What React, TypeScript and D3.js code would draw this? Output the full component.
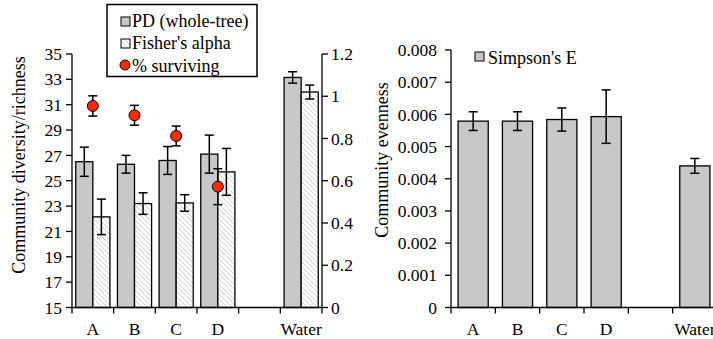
import React from "react";
import * as d3 from "d3";

// categories on the x axis (blank slot between D and Water)
const SLOTS = ["A", "B", "C", "D", "", "Water"];
const GROUPS = ["A", "B", "C", "D", "Water"];

const PD = [26.5, 26.3, 26.6, 27.1, 33.15];
const PD_ERR = [1.15, 0.7, 1.1, 1.5, 0.45];
const FISHER = [22.15, 23.2, 23.25, 25.7, 32.0];
const FISHER_ERR = [1.4, 0.85, 0.65, 1.85, 0.55];
const SURV = [0.954, 0.91, 0.812, 0.572];
const SURV_ERR = [0.048, 0.047, 0.047, 0.085];

const SIMPSON = [0.00579, 0.00579, 0.00584, 0.00593, 0.0044];
const SIMPSON_ERR = [0.00029, 0.00029, 0.00036, 0.00083, 0.00023];

const LEFT_TICKS = [15, 17, 19, 21, 23, 25, 27, 29, 31, 33, 35];
const RIGHT_TICKS = [0, 0.2, 0.4, 0.6, 0.8, 1, 1.2];
const EVEN_TICKS = [0, 0.001, 0.002, 0.003, 0.004, 0.005, 0.006, 0.007, 0.008];

const FONT = "Liberation Serif, Tinos, DejaVu Serif, serif";
const GRAY = "#c8c8c8";
const RED = "#ff2a00";
const CAP = 4.5;

export default function App() {
  const ref = React.useRef<SVGSVGElement>(null);

  React.useEffect(() => {
    const svg = d3.select(ref.current);
    svg.selectAll("*").remove();

    const defs = svg.append("defs");
    const pat = defs.append("pattern")
      .attr("id", "hatch")
      .attr("patternUnits", "userSpaceOnUse")
      .attr("width", 5).attr("height", 5);
    pat.append("rect").attr("width", 5).attr("height", 5).attr("fill", "#fff");
    pat.append("path")
      .attr("d", "M-1,-1 L6,6 M-1,4 L1,6 M4,-1 L6,1")
      .attr("stroke", "#c4c4c4").attr("stroke-width", 0.8);

    const BASE = 307.5;

    // ---------- left chart ----------
    const x = d3.scaleBand<string>().domain(SLOTS.map((s, i) => s + i)).range([72, 322]).padding(0);
    const xs = d3.scaleBand<string>().domain(["pd", "fa"]).range([0, x.bandwidth()]).paddingInner(0).paddingOuter(0.22);
    const y = d3.scaleLinear().domain([15, 35]).range([BASE, 54]);
    const y2 = d3.scaleLinear().domain([0, 1.2]).range([BASE, 54]);
    const slotOf = (g: string) => { const i = SLOTS.indexOf(g); return SLOTS[i] + i; };

    const L = svg.append("g");

    const drawErr = (g: any, cx: number, v: number, e: number, sc: any) => {
      g.append("line").attr("x1", cx).attr("x2", cx).attr("y1", sc(v - e)).attr("y2", sc(v + e));
      g.append("line").attr("x1", cx - CAP).attr("x2", cx + CAP).attr("y1", sc(v + e)).attr("y2", sc(v + e));
      g.append("line").attr("x1", cx - CAP).attr("x2", cx + CAP).attr("y1", sc(v - e)).attr("y2", sc(v - e));
    };

    GROUPS.forEach((g, i) => {
      const x0 = x(slotOf(g))!;
      L.append("rect").attr("x", x0 + xs("pd")!).attr("y", y(PD[i]))
        .attr("width", xs.bandwidth()).attr("height", BASE - y(PD[i]))
        .attr("fill", GRAY).attr("stroke", "#000").attr("stroke-width", 1.3);
      L.append("rect").attr("x", x0 + xs("fa")!).attr("y", y(FISHER[i]))
        .attr("width", xs.bandwidth()).attr("height", BASE - y(FISHER[i]))
        .attr("fill", "url(#hatch)").attr("stroke", "#000").attr("stroke-width", 1.3);
    });
    const eg = L.append("g").attr("stroke", "#000").attr("stroke-width", 1.5);
    GROUPS.forEach((g, i) => {
      const x0 = x(slotOf(g))!;
      drawErr(eg, x0 + xs("pd")! + xs.bandwidth() / 2, PD[i], PD_ERR[i], y);
      drawErr(eg, x0 + xs("fa")! + xs.bandwidth() / 2, FISHER[i], FISHER_ERR[i], y);
    });
    SURV.forEach((v, i) => {
      const cx = x(slotOf(GROUPS[i]))! + x.bandwidth() / 2;
      drawErr(eg, cx, v, SURV_ERR[i], y2);
    });
    SURV.forEach((v, i) => {
      const cx = x(slotOf(GROUPS[i]))! + x.bandwidth() / 2;
      L.append("circle").attr("cx", cx).attr("cy", y2(v)).attr("r", 5.5)
        .attr("fill", RED).attr("stroke", "#000").attr("stroke-width", 1);
    });

    // axes
    const ax = L.append("g").attr("stroke", "#000").attr("stroke-width", 1.3);
    ax.append("line").attr("x1", 72).attr("x2", 72).attr("y1", 54).attr("y2", BASE);
    ax.append("line").attr("x1", 322).attr("x2", 322).attr("y1", 54).attr("y2", BASE);
    ax.append("line").attr("x1", 72).attr("x2", 322).attr("y1", BASE).attr("y2", BASE);
    LEFT_TICKS.forEach(t => ax.append("line").attr("x1", 66).attr("x2", 72).attr("y1", y(t)).attr("y2", y(t)));
    RIGHT_TICKS.forEach(t => ax.append("line").attr("x1", 322).attr("x2", 328).attr("y1", y2(t)).attr("y2", y2(t)));
    SLOTS.forEach((s, i) => {
      const bx = x(s + i)!;
      ax.append("line").attr("x1", bx).attr("x2", bx).attr("y1", BASE).attr("y2", BASE + 6);
    });
    ax.append("line").attr("x1", 322).attr("x2", 322).attr("y1", BASE).attr("y2", BASE + 6);

    const tx = L.append("g").style("font-family", FONT).attr("font-size", 17.5).attr("fill", "#000");
    LEFT_TICKS.forEach(t => tx.append("text").attr("x", 62).attr("y", y(t)).attr("dy", "0.35em")
      .attr("text-anchor", "end").text(String(t)));
    RIGHT_TICKS.forEach(t => tx.append("text").attr("x", 331).attr("y", y2(t)).attr("dy", "0.35em")
      .text(String(t)));
    SLOTS.forEach((s, i) => tx.append("text").attr("x", x(s + i)! + x.bandwidth() / 2).attr("y", 335)
      .attr("text-anchor", "middle").text(s));
    tx.append("text").attr("transform", "translate(25,165) rotate(-90)").attr("font-size", 18)
      .attr("text-anchor", "middle").text("Community diversity/richness");

    // legend
    const lg = L.append("g");
    lg.append("rect").attr("x", 107).attr("y", 4.5).attr("width", 150).attr("height", 72)
      .attr("fill", "#fff").attr("stroke", "#000").attr("stroke-width", 1.5);
    lg.append("rect").attr("x", 121).attr("y", 17).attr("width", 9).attr("height", 9)
      .attr("fill", GRAY).attr("stroke", "#000").attr("stroke-width", 1);
    lg.append("rect").attr("x", 121).attr("y", 39).attr("width", 9).attr("height", 9)
      .attr("fill", "url(#hatch)").attr("stroke", "#000").attr("stroke-width", 1);
    lg.append("circle").attr("cx", 125).attr("cy", 65).attr("r", 5)
      .attr("fill", RED).attr("stroke", "#000").attr("stroke-width", 1);
    const lt = lg.append("g").style("font-family", FONT).attr("font-size", 18);
    lt.append("text").attr("x", 132).attr("y", 27).text("PD (whole-tree)");
    lt.append("text").attr("x", 132).attr("y", 49).text("Fisher's alpha");
    lt.append("text").attr("x", 132).attr("y", 72).text("% surviving");

    // ---------- right chart ----------
    const xr = d3.scaleBand<string>().domain(SLOTS.map((s, i) => s + i)).range([451, 717]).padding(0);
    const yr = d3.scaleLinear().domain([0, 0.008]).range([BASE, 50]);
    const bw = xr.bandwidth() * 0.68;
    const R = svg.append("g");
    GROUPS.forEach((g, i) => {
      const cx = xr(slotOf(g))! + xr.bandwidth() / 2;
      R.append("rect").attr("x", cx - bw / 2).attr("y", yr(SIMPSON[i]))
        .attr("width", bw).attr("height", BASE - yr(SIMPSON[i]))
        .attr("fill", GRAY).attr("stroke", "#000").attr("stroke-width", 1.3);
    });
    const er = R.append("g").attr("stroke", "#000").attr("stroke-width", 1.5);
    GROUPS.forEach((g, i) => {
      const cx = xr(slotOf(g))! + xr.bandwidth() / 2;
      drawErr(er, cx, SIMPSON[i], SIMPSON_ERR[i], yr);
    });
    const ar = R.append("g").attr("stroke", "#000").attr("stroke-width", 1.3);
    ar.append("line").attr("x1", 451).attr("x2", 451).attr("y1", 50).attr("y2", BASE);
    ar.append("line").attr("x1", 451).attr("x2", 717).attr("y1", BASE).attr("y2", BASE);
    EVEN_TICKS.forEach(t => ar.append("line").attr("x1", 445).attr("x2", 451).attr("y1", yr(t)).attr("y2", yr(t)));
    SLOTS.forEach((s, i) => {
      const bx = xr(s + i)!;
      ar.append("line").attr("x1", bx).attr("x2", bx).attr("y1", BASE).attr("y2", BASE + 6);
    });
    const trx = R.append("g").style("font-family", FONT).attr("font-size", 17.5).attr("fill", "#000");
    EVEN_TICKS.forEach(t => trx.append("text").attr("x", 437).attr("y", yr(t)).attr("dy", "0.35em")
      .attr("text-anchor", "end").text(t === 0 ? "0" : d3.format(".3f")(t)));
    SLOTS.forEach((s, i) => trx.append("text").attr("x", xr(s + i)! + xr.bandwidth() / 2).attr("y", 335)
      .attr("text-anchor", "middle").text(s));
    trx.append("text").attr("transform", "translate(388,160) rotate(-90)").attr("font-size", 18)
      .attr("text-anchor", "middle").text("Community evenness");
    R.append("rect").attr("x", 475).attr("y", 52).attr("width", 9).attr("height", 9)
      .attr("fill", GRAY).attr("stroke", "#000").attr("stroke-width", 1);
    trx.append("text").attr("x", 488).attr("y", 64).attr("font-size", 18).text("Simpson's E");
  }, []);

  return (
    <svg ref={ref} width={713} height={339}
      style={{ position: "absolute", left: 0, top: 0, background: "#fff" }} />
  );
}
